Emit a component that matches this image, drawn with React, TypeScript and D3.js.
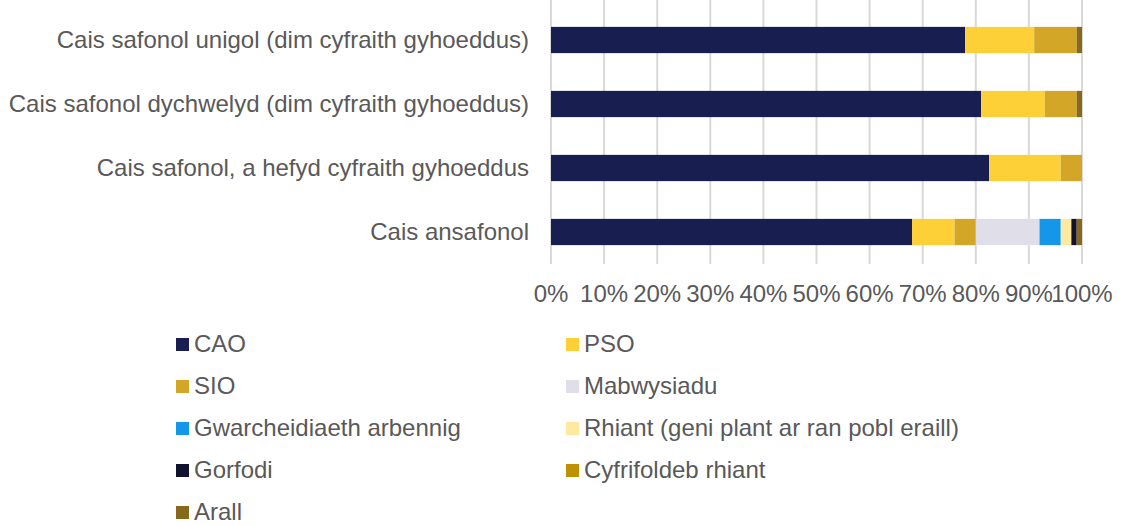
import React, { useRef, useEffect } from 'react';
import * as d3 from 'd3';

const categories = [
  'Cais safonol unigol (dim cyfraith gyhoeddus)',
  'Cais safonol dychwelyd (dim cyfraith gyhoeddus)',
  'Cais safonol, a hefyd cyfraith gyhoeddus',
  'Cais ansafonol',
];

const seriesNames = [
  'CAO',
  'PSO',
  'SIO',
  'Mabwysiadu',
  'Gwarcheidiaeth arbennig',
  'Rhiant (geni plant ar ran pobl eraill)',
  'Gorfodi',
  'Cyfrifoldeb rhiant',
  'Arall',
];

const seriesColors = [
  '#181e50',
  '#fdd037',
  '#d4a627',
  '#e0dfe9',
  '#1497e8',
  '#ffe8a0',
  '#10122e',
  '#bd9100',
  '#86691a',
];

// percentage per category, in the order of seriesNames
const cao = [78, 81, 82.5, 68];
const pso = [13, 12, 13.5, 8];
const sio = [8, 6, 4, 4];
const mabwysiadu = [0, 0, 0, 12];
const gwarcheidiaeth = [0, 0, 0, 4];
const rhiant = [0, 0, 0, 2];
const gorfodi = [0, 0, 0, 1];
const cyfrifoldeb = [0, 0, 0, 0];
const arall = [1, 1, 0, 1];

const xTicks = [0, 10, 20, 30, 40, 50, 60, 70, 80, 90, 100];

const App = () => {
  const svgRef = useRef<SVGSVGElement>(null);

  useEffect(() => {
    const W = 1122;
    const H = 526;
    const margin = { top: 8, left: 551 };
    const plotH = 256;
    const font = '"Liberation Sans", Arial, sans-serif';
    const fs = 24;

    const svg = d3.select(svgRef.current)
      .attr('width', W)
      .attr('height', H)
      .style('position', 'absolute')
      .style('left', '0px')
      .style('top', '0px')
      .style('background', 'white');

    svg.selectAll('*').remove();

    const values = [cao, pso, sio, mabwysiadu, gwarcheidiaeth, rhiant, gorfodi, cyfrifoldeb, arall];
    const rows = categories.map((c, i) => {
      const row: any = { category: c };
      seriesNames.forEach((s, j) => { row[s] = values[j][i]; });
      return row;
    });
    const stacked = d3.stack().keys(seriesNames)(rows);

    const x = d3.scaleLinear().domain([0, 100]).range([margin.left, 1082]);
    const y = d3.scaleBand()
      .domain(categories)
      .range([margin.top, margin.top + plotH])
      .paddingInner(0.59)
      .paddingOuter(0.295);

    // gridlines
    svg.append('g')
      .selectAll('line')
      .data(xTicks)
      .enter()
      .append('line')
      .attr('x1', d => x(d))
      .attr('x2', d => x(d))
      .attr('y1', 0)
      .attr('y2', margin.top + plotH)
      .attr('stroke', '#d9d9d9')
      .attr('stroke-width', 2);

    // bars
    svg.append('g')
      .selectAll('g')
      .data(stacked)
      .enter()
      .append('g')
      .attr('fill', (d, i) => seriesColors[i])
      .selectAll('rect')
      .data(d => d)
      .enter()
      .append('rect')
      .attr('x', d => x(d[0]))
      .attr('y', d => y(d.data.category as any)!)
      .attr('width', d => Math.max(0, x(d[1]) - x(d[0])))
      .attr('height', y.bandwidth());

    // x tick labels
    svg.append('g')
      .selectAll('text')
      .data(xTicks)
      .enter()
      .append('text')
      .attr('x', d => x(d))
      .attr('y', 302)
      .attr('text-anchor', 'middle')
      .attr('font-family', font)
      .attr('font-size', fs)
      .attr('fill', '#595959')
      .text(d => `${d}%`);

    // category labels
    svg.append('g')
      .selectAll('text')
      .data(categories)
      .enter()
      .append('text')
      .attr('x', 529)
      .attr('y', d => y(d)! + y.bandwidth() / 2)
      .attr('dy', '0.35em')
      .attr('text-anchor', 'end')
      .attr('font-family', font)
      .attr('font-size', fs)
      .attr('fill', '#595959')
      .text(d => d);

    // legend
    const legend = svg.append('g');
    const items = legend.selectAll('g')
      .data(seriesNames)
      .enter()
      .append('g')
      .attr('transform', (d, i) => `translate(${i % 2 === 0 ? 176 : 566}, ${344 + Math.floor(i / 2) * 42})`);

    items.append('rect')
      .attr('x', 0)
      .attr('y', -6)
      .attr('width', 13)
      .attr('height', 13)
      .attr('fill', (d, i) => seriesColors[i]);

    items.append('text')
      .attr('x', 18)
      .attr('y', 8)
      .attr('font-family', font)
      .attr('font-size', fs)
      .attr('fill', '#595959')
      .text(d => d);
  }, []);

  return <svg ref={svgRef}></svg>;
};

export default App;
